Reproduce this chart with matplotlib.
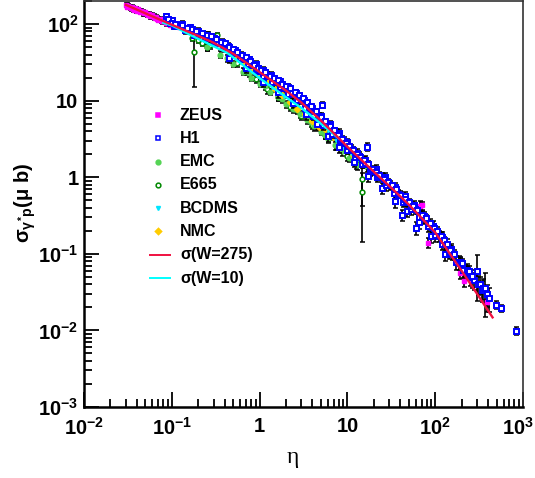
import numpy as np
import matplotlib
matplotlib.use("Agg")
import matplotlib.pyplot as plt
from matplotlib.ticker import FixedLocator, NullFormatter, LogLocator
from matplotlib.transforms import ScaledTranslation

plt.rcParams['font.family'] = ['Liberation Sans', 'DejaVu Sans']
plt.rcParams['font.weight'] = 'bold'
plt.rcParams['mathtext.fontset'] = 'custom'
plt.rcParams['mathtext.rm'] = 'Liberation Sans:bold'
plt.rcParams['mathtext.it'] = 'Liberation Sans:bold'
plt.rcParams['mathtext.bf'] = 'Liberation Sans:bold'
plt.rcParams['mathtext.sf'] = 'Liberation Sans:bold'

# ---------------- data ----------------
h1_eta = [0.085, 0.09, 0.1, 0.11, 0.13, 0.15, 0.17, 0.19, 0.22, 0.25,
          0.28, 0.32, 0.36, 0.4, 0.45, 0.5, 0.56, 0.63, 0.7, 0.78,
          0.87, 0.95, 1.05, 1.15, 1.3, 1.45, 1.6, 1.8, 2.0, 2.2,
          2.5, 2.8, 3.1, 3.5, 3.9, 4.4, 5.0, 5.1, 5.6, 6.3,
          7.0, 7.8, 8.7, 9.6, 10.5, 11.5, 12.8, 14, 15.5, 16.6,
          17, 19, 21, 23, 26, 29, 32, 36, 40, 41.5,
          45, 50, 56, 61, 62, 70, 78, 87, 96, 105,
          115, 125, 135, 147, 165, 190, 200, 228, 240, 265,
          297, 320, 350, 366, 412, 492, 557, 832]
h1_sig = [128, 115, 104, 100, 96, 88, 86, 80, 76, 72,
          70, 64, 58, 56, 50, 47, 43, 40, 37, 33,
          29, 27, 25, 24, 21, 20, 18.5, 16.5, 15.5, 14.5,
          12.8, 12.0, 10.8, 9.5, 8.6, 7.3, 6.1, 8.8, 5.4, 4.6,
          4.1, 3.6, 3.2, 2.8, 2.55, 2.3, 2.0, 1.85, 1.7, 2.5,
          1.5, 1.3, 1.18, 1.08, 0.95, 0.86, 0.78, 0.70, 0.58, 0.32,
          0.52, 0.47, 0.42, 0.217, 0.37, 0.32, 0.29, 0.25, 0.22, 0.20,
          0.17, 0.15, 0.135, 0.112, 0.098, 0.076, 0.075, 0.0615, 0.060, 0.052,
          0.060, 0.040, 0.036, 0.0355, 0.0264, 0.0216, 0.0194, 0.0098]
h1_rel = [0.06, 0.06, 0.05, 0.05, 0.06, 0.05, 0.06, 0.05, 0.05, 0.06,
          0.05, 0.06, 0.05, 0.07, 0.05, 0.06, 0.05, 0.06, 0.05, 0.06,
          0.06, 0.05, 0.07, 0.06, 0.05, 0.06, 0.07, 0.06, 0.08, 0.06,
          0.07, 0.06, 0.08, 0.07, 0.06, 0.08, 0.07, 0.10, 0.08, 0.07,
          0.08, 0.07, 0.09, 0.08, 0.07, 0.09, 0.08, 0.10, 0.09, 0.12,
          0.09, 0.08, 0.10, 0.09, 0.08, 0.10, 0.09, 0.10, 0.09, 0.15,
          0.10, 0.09, 0.11, 0.20, 0.10, 0.12, 0.11, 0.13, 0.12, 0.11,
          0.14, 0.12, 0.15, 0.13, 0.15, 0.16, 0.14, 0.18, 0.15, 0.17,
          0.60, 0.25, 0.30, 0.58, 0.35, 0.12, 0.10, 0.12]

h1b_eta = [0.095, 0.105, 0.12, 0.14, 0.16, 0.18, 0.2, 0.24, 0.27, 0.3,
           0.34, 0.38, 0.42, 0.48, 0.53, 0.6, 0.66, 0.74, 0.82, 0.9,
           1.0, 1.1, 1.2, 1.38, 1.52, 1.7, 1.9, 2.1, 2.35, 2.65,
           2.95, 3.3, 3.7, 4.1, 4.7, 5.3, 5.9, 6.7, 7.4, 8.2,
           9.1, 10, 11, 12.2, 13.4, 14.8, 16, 18, 20, 22,
           24.5, 27.5, 30.5, 34, 38, 43, 47, 53, 59, 66,
           74, 82, 91, 100, 110, 120, 130, 142, 157, 172,
           185, 210, 250, 280, 310, 340, 390]
h1b_sig = [102, 94, 97, 83, 84, 73, 75, 66, 65, 58,
           57, 51, 50, 43, 42, 36, 35, 30, 29.5, 25,
           24.5, 21, 21.5, 17.5, 18, 15, 14.8, 12.2, 12.6, 10.2,
           10.1, 8.0, 7.9, 6.3, 6.2, 4.8, 4.8, 3.7, 3.8, 3.0,
           2.95, 2.3, 2.35, 1.85, 1.9, 1.5, 1.55, 1.2, 1.22, 1.0,
           1.02, 0.78, 0.79, 0.62, 0.61, 0.48, 0.49, 0.38, 0.38, 0.30,
           0.29, 0.23, 0.225, 0.175, 0.172, 0.135, 0.135, 0.105, 0.1, 0.078,
           0.077, 0.062, 0.05, 0.045, 0.04, 0.034, 0.03]
h1b_rel = [0.08, 0.09, 0.08, 0.10, 0.08, 0.09, 0.08, 0.10, 0.09, 0.08,
           0.10, 0.09, 0.08, 0.10, 0.09, 0.10, 0.08, 0.11, 0.09, 0.10,
           0.09, 0.11, 0.10, 0.12, 0.10, 0.11, 0.09, 0.12, 0.10, 0.11,
           0.10, 0.12, 0.11, 0.12, 0.10, 0.13, 0.11, 0.12, 0.11, 0.13,
           0.12, 0.13, 0.11, 0.14, 0.12, 0.13, 0.12, 0.14, 0.12, 0.13,
           0.12, 0.14, 0.13, 0.15, 0.13, 0.14, 0.13, 0.15, 0.14, 0.16,
           0.15, 0.17, 0.15, 0.18, 0.16, 0.18, 0.17, 0.19, 0.18, 0.20,
           0.20, 0.22, 0.24, 0.25, 0.28, 0.30, 0.32]

h1c_eta = [0.45, 0.7, 1.1, 1.6, 2.4, 3.4, 4.5, 6.0, 8.0, 12,
           17, 25, 35, 48, 65, 90, 130]
h1c_sig = [36, 27, 17.5, 13, 9.3, 6.6, 4.9, 3.5, 2.5, 1.6,
           1.05, 0.72, 0.49, 0.36, 0.26, 0.17, 0.10]
h1c_rel = [0.15, 0.16, 0.15, 0.17, 0.15, 0.16, 0.15, 0.17, 0.16, 0.15,
           0.17, 0.16, 0.18, 0.17, 0.19, 0.18, 0.20]

h1d_eta = [0.1, 0.13, 0.16, 0.2, 0.25, 0.3, 0.37, 0.44, 0.52, 0.62,
           0.75, 0.9, 1.1, 1.35, 1.7, 2.1, 2.6, 3.2, 4.0, 5.0,
           6.3, 8, 10, 13, 16, 21, 27, 35, 45, 58,
           75, 95, 120, 150, 190, 230]
h1d_sig = [113, 101, 92, 81, 72, 66, 59, 52, 46, 40,
           34.5, 30, 25.3, 21.8, 18, 15, 12.6, 10.1, 8.0, 6.3,
           4.9, 3.8, 2.9, 2.1, 1.7, 1.29, 1.0, 0.74, 0.57, 0.43,
           0.31, 0.23, 0.167, 0.115, 0.078, 0.058]
h1d_rel = [0.07, 0.08, 0.07, 0.09, 0.08, 0.07, 0.09, 0.08, 0.07, 0.09,
           0.08, 0.09, 0.08, 0.10, 0.08, 0.09, 0.10, 0.09, 0.10, 0.09,
           0.10, 0.11, 0.10, 0.11, 0.12, 0.11, 0.12, 0.13, 0.12, 0.14,
           0.13, 0.15, 0.14, 0.16, 0.18, 0.20]

zeus_eta = [0.030, 0.032, 0.035, 0.038, 0.041, 0.045, 0.050, 0.055, 0.060, 0.066,
            0.073, 0.080, 0.090, 0.100, 0.120, 0.150, 0.200, 0.300, 0.500, 1.0,
            2.0, 5.0, 10, 20, 40, 67, 70, 82, 100, 120,
            150, 191, 213, 260, 389,
            0.031, 0.034, 0.037, 0.040, 0.044, 0.048, 0.053, 0.058, 0.064, 0.070,
            0.077, 0.085, 0.095,
            0.0305, 0.0335, 0.0365, 0.0395, 0.043, 0.047, 0.052, 0.057, 0.062, 0.068,
            0.075]
zeus_sig = [178, 172, 165, 160, 155, 150, 142, 137, 130, 124,
            117, 110, 104, 98, 92, 85, 77, 63, 45, 24,
            15, 5.8, 2.6, 1.2, 0.6, 0.42, 0.43, 0.14, 0.20, 0.16,
            0.11, 0.057, 0.044, 0.045, 0.0235,
            168, 160, 154, 150, 143, 138, 131, 126, 120, 114,
            108, 102, 96,
            172, 166, 158, 153, 147, 142, 135, 128, 123, 118,
            112]
zeus_rel = [0.05, 0.05, 0.06, 0.05, 0.05, 0.06, 0.05, 0.05, 0.06, 0.05,
            0.05, 0.06, 0.05, 0.05, 0.06, 0.05, 0.06, 0.06, 0.06, 0.07,
            0.07, 0.08, 0.08, 0.09, 0.10, 0.15, 0.12, 0.14, 0.12, 0.12,
            0.14, 0.18, 0.16, 0.20, 0.25,
            0.06, 0.07, 0.06, 0.07, 0.06, 0.07, 0.06, 0.07, 0.06, 0.07,
            0.06, 0.07, 0.06,
            0.08, 0.08, 0.09, 0.08, 0.08, 0.09, 0.08, 0.08, 0.09, 0.08,
            0.08]

emc_eta = [0.25, 0.35, 0.5, 0.65, 0.8, 1.0, 1.3, 1.6, 2.0, 2.4,
           2.9, 3.5, 4.2, 5.0, 6.0, 7.2, 8.6, 10.5, 13, 16.6,
           0.42, 0.75, 1.15, 1.8, 2.7, 3.9, 5.5, 7.8]
emc_sig = [50, 40, 30, 24, 20, 16.5, 13, 11, 9.0, 7.8,
           6.6, 5.6, 4.6, 3.9, 3.2, 2.6, 2.2, 1.8, 1.45, 1.38,
           36, 23, 15.5, 10.5, 7.5, 5.2, 3.6, 2.6]
emc_rel = [0.10, 0.10, 0.09, 0.10, 0.09, 0.10, 0.10, 0.11, 0.10, 0.12,
           0.10, 0.11, 0.12, 0.10, 0.12, 0.12, 0.13, 0.12, 0.14, 0.15,
           0.10, 0.11, 0.10, 0.12, 0.11, 0.12, 0.12, 0.13]

e665_eta = [0.17, 0.18, 0.2, 0.22, 0.25, 0.26, 0.27, 0.3, 0.33, 0.38,
            0.46, 0.55, 0.7, 0.9, 1.2, 1.6, 2.2, 3.0, 4.0, 5.5,
            7.5, 10, 12.5, 14.7, 14.7]
e665_sig = [66, 43, 62, 56, 50, 72, 53, 58, 72, 48,
            37, 31, 24, 19, 14, 11, 8.2, 6.3, 4.8, 3.6,
            2.6, 1.9, 1.5, 0.94, 0.64]
e665_rel = [0.08, 0.65, 0.08, 0.08, 0.10, 0.08, 0.10, 0.08, 0.07, 0.10,
            0.10, 0.10, 0.10, 0.10, 0.12, 0.10, 0.12, 0.10, 0.12, 0.12,
            0.12, 0.15, 0.15, 0.55, 0.78]

bcdms_eta = [1.0, 1.4, 1.9, 2.5, 3.2, 4.0, 5.0, 6.2, 7.5, 9, 11, 13, 15, 18]
bcdms_sig = [20, 15, 11.5, 9.3, 7.5, 6.0, 4.8, 3.8, 3.1, 2.5, 2.05, 1.7, 1.45, 1.2]
bcdms_rel = [0.05, 0.05, 0.06, 0.05, 0.06, 0.05, 0.06, 0.06, 0.07, 0.06, 0.07, 0.07, 0.08, 0.08]

nmc_eta = [0.55, 0.7, 0.85, 1.0, 1.2, 1.5, 1.8, 2.2, 2.7, 3.3, 4.0, 4.8, 5.5, 6.9, 8.9, 11.6]
nmc_sig = [36, 31, 26, 21, 18, 14, 12, 9.5, 7.8, 6.6, 5.4, 4.5, 4.2, 3.4, 2.6, 1.95]
nmc_rel = [0.07, 0.08, 0.07, 0.08, 0.07, 0.08, 0.08, 0.09, 0.08, 0.09, 0.09, 0.10, 0.09, 0.10, 0.10, 0.11]

w275_eta = [0.03, 0.05, 0.1, 0.2, 0.3, 0.5, 1, 2, 3, 5, 10, 20, 30, 50, 100, 200, 300, 450]
w275_sig = [178, 138, 98, 70, 57, 41, 23.6, 13.5, 9.4, 5.5, 2.5, 1.18, 0.77, 0.44, 0.19, 0.06, 0.030, 0.0148]
w10_eta = [0.08, 0.1, 0.2, 0.43, 1, 2, 3, 5, 8]
w10_sig = [104, 96, 64, 42, 19.7, 11.1, 8.0, 5.0, 3.2]

x_ticks = [1e-2, 1e-1, 1, 10, 1e2, 1e3]
x_labels = [r'$10^{-2}$', r'$10^{-1}$', '1', '10', r'$10^{2}$', r'$10^{3}$']
y_ticks = [1e-3, 1e-2, 1e-1, 1, 10, 1e2]
y_labels = [r'$10^{-3}$', r'$10^{-2}$', r'$10^{-1}$', '1', '10', r'$10^{2}$']

# ---------------- figure ----------------
W, H = 535, 478
fig = plt.figure(figsize=(W / 100, H / 100), dpi=100)
L, R, B, T = 84, 523, 407, 1
ax = fig.add_axes([L / W, (H - B) / H, (R - L) / W, (B - T) / H])
ax.set_xscale('log')
ax.set_yscale('log')
ax.set_xlim(1e-2, 1e3)
ax.set_ylim(1e-3, 200)

def draw(eta, sig, rel, marker, color, ms, filled=True, mew=1.0, z=3):
    eta = np.asarray(eta); sig = np.asarray(sig); err = sig * np.asarray(rel)
    ax.errorbar(eta, sig, yerr=err, fmt='none', ecolor='black', elinewidth=1.2,
                capsize=1.8, capthick=1.1, zorder=z)
    ax.plot(eta, sig, linestyle='none', marker=marker, ms=ms,
            mfc=color if filled else 'white', mec=color, mew=mew, zorder=z + 0.5)

H1C = '#0000ff'
H1MS, H1MEW = 3.6, 1.4
draw(e665_eta, e665_sig, e665_rel, 'o', '#008800', 3.4, filled=False, mew=1.1, z=2)
draw(emc_eta, emc_sig, emc_rel, 'o', '#55d455', 3.4, z=2.2)
draw(nmc_eta, nmc_sig, nmc_rel, 'D', '#ffcc00', 3.2, z=2.4)
draw(bcdms_eta, bcdms_sig, bcdms_rel, 'v', '#00e5ff', 2.8, z=2.6)
draw(h1c_eta, h1c_sig, h1c_rel, 's', H1C, H1MS, filled=False, mew=H1MEW, z=2.8)
draw(zeus_eta, zeus_sig, zeus_rel, 's', '#ff00ff', 2.3, z=3)
draw(h1d_eta, h1d_sig, h1d_rel, 's', H1C, H1MS, filled=False, mew=H1MEW, z=3.05)
draw(h1b_eta, h1b_sig, h1b_rel, 's', H1C, H1MS, filled=False, mew=H1MEW, z=3.1)
draw(h1_eta, h1_sig, h1_rel, 's', H1C, H1MS, filled=False, mew=H1MEW, z=3.2)

ax.plot(w10_eta, w10_sig, color='#00ffff', lw=1.7, zorder=5)
ax.plot(w275_eta, w275_sig, color='#f01040', lw=1.7, zorder=5.2)

# axes styling (ROOT like)
ax.xaxis.set_major_locator(FixedLocator(x_ticks))
ax.set_xticklabels(x_labels)
ax.yaxis.set_major_locator(FixedLocator(y_ticks))
ax.set_yticklabels(y_labels)
ax.xaxis.set_minor_locator(LogLocator(base=10, subs=np.arange(2, 10), numticks=20))
ax.yaxis.set_minor_locator(LogLocator(base=10, subs=np.arange(2, 10), numticks=20))
ax.xaxis.set_minor_formatter(NullFormatter())
ax.yaxis.set_minor_formatter(NullFormatter())
ax.tick_params(which='both', direction='in', top=False, right=False, width=1.3, labelsize=14.5)
ax.tick_params(which='major', length=11)
ax.tick_params(which='minor', length=6)
ax.tick_params(axis='x', which='major', pad=7)
ax.tick_params(axis='y', which='major', pad=4)
for s in ['left', 'bottom']:
    ax.spines[s].set_linewidth(1.8)
for s in ['top', 'right']:
    ax.spines[s].set_linewidth(1.2)
    ax.spines[s].set_color('#333333')

last = ax.get_xticklabels()[-1]
last.set_transform(last.get_transform() + ScaledTranslation(-5 / 100, 0, fig.dpi_scale_trans))

fig.text(293 / W, 1 - 457 / H, 'η', fontsize=17, fontweight='normal',
         family=['Liberation Serif', 'DejaVu Serif'], ha='center', va='center')
fig.text(25 / W, 1 - 203 / H, r'$\sigma_{\gamma^{*}p}$(μ b)', fontsize=14.5,
         rotation=90, ha='center', va='center')

# legend (manual, ROOT TLegend like)
leg = [('ZEUS', 's', '#ff00ff', True, 2.3),
       ('H1', 's', H1C, False, 3.2),
       ('EMC', 'o', '#55d455', True, 3.4),
       ('E665', 'o', '#008800', False, 3.4),
       ('BCDMS', 'v', '#00e5ff', True, 2.8),
       ('NMC', 'D', '#ffcc00', True, 3.2)]
y0, dy = 115, 23.3
for i, (lab, m, c, f, ms) in enumerate(leg):
    yy = 1 - (y0 + i * dy) / H
    fig.lines.append(plt.Line2D([158 / W], [yy], transform=fig.transFigure, marker=m,
                                ms=ms, mfc=c if f else 'white', mec=c, mew=1.1, ls='none'))
    fig.text(180 / W, yy, lab, fontsize=11.5, ha='left', va='center')
for j, (lab, c) in enumerate([('σ(W=275)', '#f01040'), ('σ(W=10)', '#00ffff')]):
    yy = 1 - (y0 + (6 + j) * dy) / H
    fig.lines.append(plt.Line2D([150 / W, 170 / W], [yy, yy], transform=fig.transFigure,
                                color=c, lw=1.4))
    fig.text(180 / W, yy, lab, fontsize=11.5, ha='left', va='center')

fig.savefig('out.png', dpi=100)
